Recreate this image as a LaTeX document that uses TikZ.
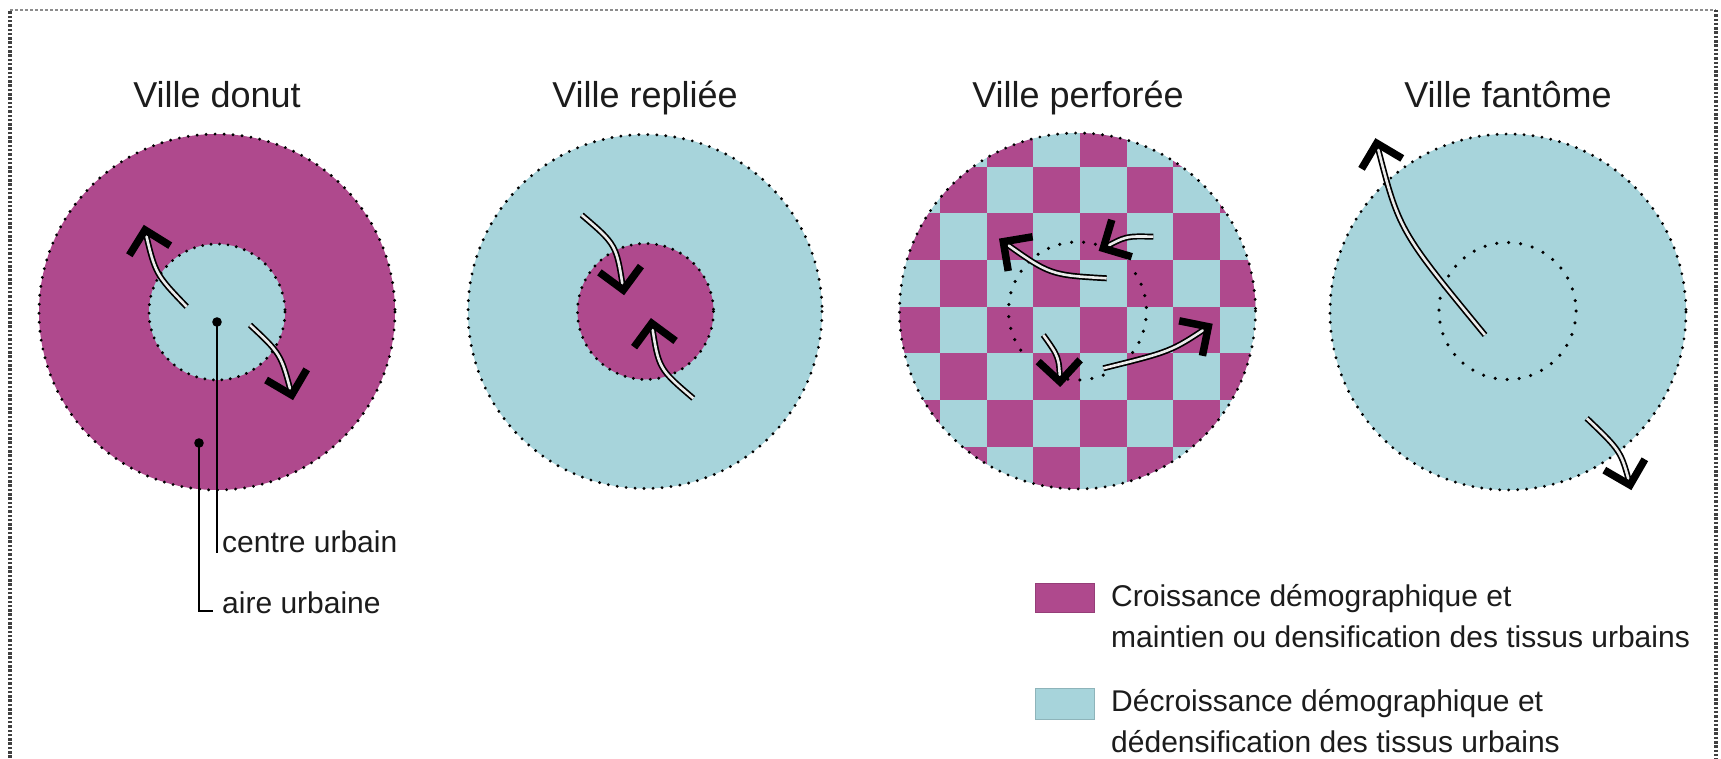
\documentclass[tikz,border=0pt]{standalone}
\usepackage{fontspec}
\setmainfont{Liberation Sans}
\usetikzlibrary{decorations.markings}
\definecolor{mag}{RGB}{175,73,141}
\definecolor{cya}{RGB}{167,212,219}
\definecolor{txt}{RGB}{28,28,28}
\tikzset{
  outerdots/.style={draw=black, line width=3.2pt, dash pattern=on 0pt off 9pt, line cap=round},
  innerdots/.style={draw=black, line width=3.2pt, dash pattern=on 0pt off 8.5pt, line cap=round},
  sparsedots/.style={draw=black, line width=3.5pt, dash pattern=on 0pt off 12pt, line cap=round},
  shaft/.style={draw=black, line width=1.7pt, double=white!92!black, double distance=2.6pt},
  headmark/.style={decoration={markings, mark=at position 1 with {\draw[black, line width=7.5pt, line join=miter, line cap=butt] (-21pt,21pt) -- (0pt,0pt) -- (-21pt,-21pt);}}, decorate},
  title/.style={font=\fontsize{36}{40}\selectfont, text=txt, inner sep=0pt, anchor=base},
  lab/.style={font=\fontsize{30}{34}\selectfont, text=txt, inner sep=0pt, anchor=base west},
  leader/.style={draw=black, line width=2.2pt},
  frameline/.style={draw=black!75, line width=4pt, dash pattern=on 2.5pt off 1.8pt},
  legbox/.style={line width=0.8pt},
}
\newcommand\flowarrow[3]{%
  \draw[shaft] #1 .. controls #2 .. #3;
  \path[headmark] #1 .. controls #2 .. #3;
}
\begin{document}
\begin{tikzpicture}[x=1pt,y=-1pt]
\useasboundingbox (0,0) rectangle (1721,759);
\fill[white] (0,0) rectangle (1721,759);
% frame
\draw[frameline] (10,775) -- (10,10);
\draw[draw=black!45, line width=2pt, dash pattern=on 3pt off 2pt] (10,10) -- (1716,10);
\draw[frameline] (1716,10) -- (1716,775);

% titles
\node[title] (t1) at (217,108) {Ville donut};
\node[title] (t2) at (645,108) {Ville repliée};
\node[title] (t3) at (1078,108) {Ville perforée};
\node[title] (t4) at (1508,108) {Ville fantôme};

% ---- Ville donut
\fill[mag] (217,312) circle[radius=178];
\draw[outerdots] (217,312) circle[radius=178];
\fill[cya] (217,312) circle[radius=68];
\draw[innerdots] (217,312) circle[radius=68];
\flowarrow{(186.7,306.7)}{(155.3,274)}{(145,230)}
\flowarrow{(250,325)}{(281,354)}{(291.7,395)}

% ---- Ville repliee
\fill[cya] (645,311.5) circle[radius=177];
\draw[outerdots] (645,311.5) circle[radius=177];
\fill[mag] (645.5,311.5) circle[radius=68];
\draw[innerdots] (645.5,311.5) circle[radius=68];
\flowarrow{(581.7,215)}{(616.5,244.7)}{(623.3,290)}
\flowarrow{(693.3,398.3)}{(658.5,368.6)}{(651.7,323.3)}

% ---- Ville perforee
\begin{scope}
\clip (1077.5,311) circle[radius=178];
\fill[cya] (1077.5,311) circle[radius=178];
\foreach \i in {-4,...,3} {
  \foreach \j in {-4,...,3} {
    \pgfmathtruncatemacro\parity{mod(\i+\j+8,2)}
    \ifnum\parity=0
      \fill[mag] ({1080+\i*46.7},{306.7+\j*46.7}) rectangle ++(46.7,46.7);
    \fi
  }
}
\end{scope}
\draw[outerdots] (1077.5,311) circle[radius=178];
\draw[sparsedots] (1077.5,311) ++(-75:69) arc[start angle=-75, end angle=-220, radius=69];
\draw[sparsedots] (1077.5,311) ++(-262:69) arc[start angle=-262, end angle=-292, radius=69];
\draw[sparsedots] (1077.5,311) ++(-323:69) arc[start angle=-323, end angle=-395, radius=69];
\flowarrow{(1106.7,278.3)}{(1050,275)}{(1003.3,241.7)}
\flowarrow{(1153.3,236.7)}{(1126,236)}{(1103.3,248.3)}
\flowarrow{(1043.3,335)}{(1059,357)}{(1060,381.7)}
\flowarrow{(1103.3,368.3)}{(1171,351.5)}{(1208.3,326.7)}

% ---- Ville fantome
\fill[cya] (1508,312) circle[radius=178];
\draw[outerdots] (1508,312) circle[radius=178];
\draw[sparsedots] (1507.5,311) circle[radius=68.5];
\flowarrow{(1485,335)}{(1399,230.6)}{(1376.7,143.3)}
\flowarrow{(1586.7,418.3)}{(1620.9,451)}{(1630,485)}

% ---- leaders
\coordinate (cudot) at (217,322);
\coordinate (cuend) at (217,553);
\coordinate (audot) at (199,443);
\coordinate (aucorner) at (199,611);
\coordinate (auend) at (213,611);
\fill (cudot) circle[radius=4.8];
\fill (audot) circle[radius=4.8];
\draw[leader] (cudot) -- (cuend);
\draw[leader] (audot) -- (aucorner) -- (auend);
\node[lab] (cu) at (222,552) {centre urbain};
\node[lab] (au) at (222,613) {aire urbaine};

% ---- legend
\filldraw[legbox, fill=mag, draw=mag!85!black] (1035,583) rectangle (1094,612);
\filldraw[legbox, fill=cya, draw=cya!85!black] (1035,688) rectangle (1094,719);
\node[lab] (l1) at (1111,606) {Croissance démographique et};
\node[lab] (l2) at (1111,647) {maintien ou densification des tissus urbains};
\node[lab] (l3) at (1111,711) {Décroissance démographique et};
\node[lab] (l4) at (1111,752) {dédensification des tissus urbains};
\end{tikzpicture}
\end{document}
